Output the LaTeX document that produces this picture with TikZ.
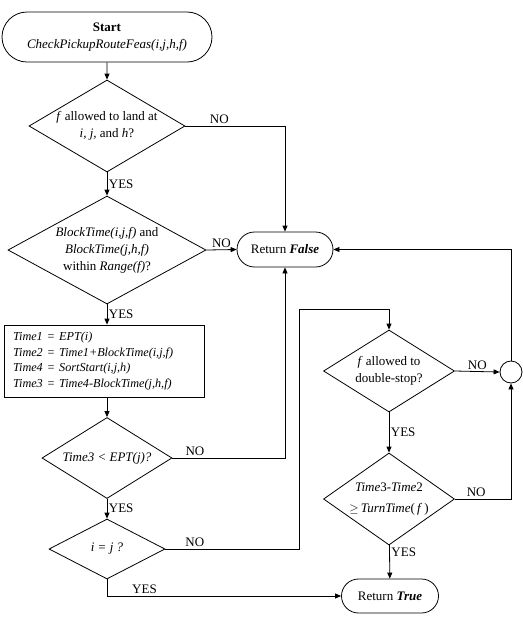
\documentclass[tikz,border=0pt]{standalone}
\usepackage{fontspec}
\setmainfont{Liberation Serif}
\usetikzlibrary{shapes.geometric,shapes.misc,arrows.meta}

\begin{document}
\begin{tikzpicture}[x=1pt, y=-1pt, thick, >={Triangle[length=6pt,width=5pt]},
   font=\fontsize{13}{17}\selectfont,
   terminal/.style ={rounded rectangle, draw, inner sep=0pt, align=center},
   decision/.style ={diamond, draw, inner sep=0pt},
   question/.style ={align=center, inner sep=0pt},
   process/.style ={rectangle, draw, inner ysep=0pt, inner xsep=9pt, text width=182pt, align=left,
      font=\fontsize{12.2}{15.5}\selectfont\itshape},
   junction/.style ={circle, draw, inner sep=0pt, minimum size=22pt},
   tag/.style ={inner sep=1.5pt}]
   \useasboundingbox (0,0) rectangle (523,625);

   \node[terminal, minimum width=210pt, minimum height=50pt] (start) at (107,37)
      {\textbf{Start}\\ \textit{CheckPickupRouteFeas(i,j,h,f)}};
   \node[decision, minimum width=156pt, minimum height=92pt] (land) at (107,126) {};
   \node[question] (landtext) at (land)
      {\textit{f} allowed to land at\\ \textit{i, j,} and \textit{h}?};
   \node[decision, minimum width=198pt, minimum height=108pt] (range) at (107,250) {};
   \node[question] (rangetext) at (range)
      {\textit{BlockTime(i,j,f)} and\\ \textit{BlockTime(j,h,f)}\\ within \textit{Range(f)}?};
   \node[process, minimum width=200pt, minimum height=72pt] (times) at (104,361)
      {Time1 = EPT(i)\\ Time2 = Time1+BlockTime(i,j,f)\\ Time4 = SortStart(i,j,h)\\ Time3 = Time4-BlockTime(j,h,f)};
   \node[decision, minimum width=130pt, minimum height=81pt] (ept) at (107,458) {};
   \node[question] (epttext) at (ept) {\textit{Time3 < EPT(j)?}};
   \node[decision, minimum width=116pt, minimum height=60pt] (same) at (107,549) {};
   \node[question] (sametext) at (same) {\textit{i = j ?}};
   \node[terminal, minimum width=96pt, minimum height=35pt] (false) at (285,249.5)
      {Return \textbf{\textit{False}}};
   \node[decision, minimum width=131pt, minimum height=82pt] (double) at (389,371) {};
   \node[question] (doubletext) at (double) {\textit{f} allowed to\\ double-stop?};
   \node[decision, minimum width=131pt, minimum height=92pt] (turn) at (389,499) {};
   \node[question, font=\fontsize{13}{21}\selectfont] (turntext) at (turn)
      {\textit{Time}3-\textit{Time}2\\ $\geq$\,\textit{TurnTime}(\,\textit{f}\,)};
   \node[junction] (join) at (511,372) {};
   \node[terminal, minimum width=97pt, minimum height=34pt] (true) at (390,596)
      {Return \textbf{\textit{True}}};

   % left column
   \draw[->] (start) to (land);
   \draw[->] (land) to node[tag, right] {YES} (range);
   \draw[->] (range) to node[tag, right] {YES} (range.south |- times.north);
   \draw[->] (range.south |- times.south) to (ept);
   \draw[->] (ept) to node[tag, right] {YES} (same);

   % NO branches to Return False
   \draw[->] (land.east) -| node[tag, above, pos=0.17] {NO} (false.north);
   \draw[->] (range.east) to node[tag, above] {NO} (false.west);
   \draw[->] (ept.east) -| node[tag, above, pos=0.1] {NO} (false.south);

   % i = j
   \draw[->] (same.east) -- node[tag, above, pos=0.22] {NO} ++(134,0)
      |- ([yshift=20pt]double.north) -- (double.north);
   \draw[->] (same.south) |- node[tag, above, pos=0.58] {YES} (true.west);

   % right column
   \draw[->] (double.east) to node[tag, above] {NO} (join.west);
   \draw[->] (double) to node[tag, right] {YES} (turn);
   \draw[->] (turn.east) -| node[tag, above, pos=0.19] {NO} (join.south);
   \draw[->] (turn) to node[tag, right, pos=0.2] {YES} (true);
   \draw[->] (join.north) |- (false.east);
 \end{tikzpicture}
\end{document}
